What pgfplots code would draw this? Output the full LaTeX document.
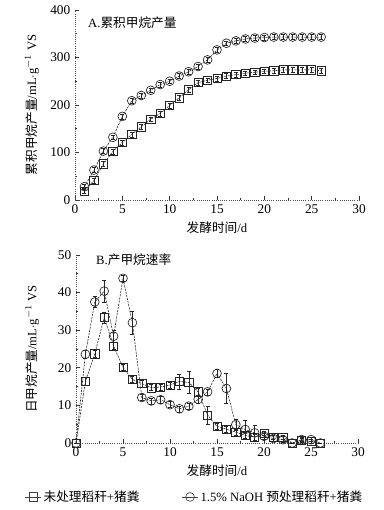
\documentclass[border=0pt]{standalone}
\usepackage{fontspec}
\setmainfont{Liberation Serif}
\newfontfamily\cjk{Noto Sans CJK SC}
\usepackage{pgfplots}
\usepackage{pgfplotstable}
\pgfplotsset{compat=1.18}

\pgfplotstableread{
x y e
1 19 5
2 41 5
3 76 5
4 102 5
5 121 5
6 138 5
7 154 5
8 170 5
9 182 5
10 199 5
11 215 5
12 232 6
13 247 5
14 252 5
15 256 5
16 261 5
17 264 5
18 267 5
19 269 5
20 271 5
21 272 5
22 274 5
23 274 5
24 274 5
25 274 5
26 272 5
}\cumA

\pgfplotstableread{
x y e
1 28 5
2 63 5
3 103 5
4 132 5
5 176 5
6 209 5
7 220 5
8 231 5
9 243 5
10 250 5
11 261 5
12 270 5
13 281 5
14 295 5
15 316 5
16 330 5
17 335 5
18 339 5
19 341 5
20 342 5
21 343 5
22 343 5
23 343 5
24 343 5
25 343 5
26 343 5
}\cumB

\pgfplotstableread{
x y e
0 0 0
1 16.4 1
2 23.7 1
3 33.4 1.5
4 25.8 1
5 20.1 0.8
6 16.9 0.8
7 15.8 1
8 14.7 0.8
9 14.9 0.8
10 15.4 0.8
11 16.4 2
12 16.1 3
13 13.6 1
14 7.4 2.5
15 4.4 0.8
16 3.7 0.8
17 2.9 0.8
18 2.0 0.8
19 1.6 0.8
20 2.5 0.5
21 1.6 0.5
22 1.6 0.5
23 0 0
24 0.7 0.5
25 0.4 0.5
26 0 0
}\rateA

\pgfplotstableread{
x y e
0 0 0
1 23.6 1
2 37.5 1.5
3 40.4 3
4 28.4 1.5
5 43.8 0.8
6 32.0 3
7 12.1 0.8
8 11.2 0.8
9 11.5 0.8
10 10.2 0.8
11 9.1 0.8
12 9.8 0.8
13 11.6 1
14 13.6 0.8
15 18.5 1
16 14.5 4
17 4.9 1.5
18 3.6 2.5
19 2.7 2
20 1.8 0.8
21 1.2 0.8
22 0.9 0.8
23 0 0
24 0.9 0.5
25 0.9 0.5
26 0 0
}\rateB

\pgfplotsset{
  myaxis/.style={
    scale only axis,
    axis x line*=bottom,
    axis y line*=left,
    axis line style={-, densely dotted, line width=0.6pt, black!70},
    tick style={black!80, line width=0.5pt},
    major tick length=3pt,
    minor tick length=1.8pt,
    tick align=inside,
    xmin=0, xmax=30,
    xtick={0,5,...,30},
    minor x tick num=1,
    minor y tick num=1,
    tick label style={font=\fontsize{10}{12}\selectfont},
    label style={font=\fontsize{9.5}{11}\selectfont},
    /pgf/number format/assume math mode=true,
    xlabel={{\cjk 发酵时间}/d},
    xlabel style={at={(axis description cs:0.5,-0.145)}, anchor=center},
    clip=false,
    legend image code/.code={
      \draw[mark repeat=2, mark phase=2, ##1, solid, line width=0.5pt, black!75]
        plot coordinates {(0cm,0cm) (0.2cm,0cm) (0.4cm,0cm)};
    },
  },
  serA/.style={black!85, line width=0.45pt, dash pattern=on 1.6pt off 0.8pt,
    mark=square, mark size=3.1pt, mark options={solid, line width=0.5pt},
    error bars/.cd, y dir=both, y explicit, error mark options={rotate=90, mark size=1.5pt, line width=0.4pt}, error bar style={solid, line width=0.4pt}},
  serB/.style={black!85, line width=0.45pt, dash pattern=on 1.6pt off 0.8pt,
    mark=o, mark size=3.3pt, mark options={solid, line width=0.5pt},
    error bars/.cd, y dir=both, y explicit, error mark options={rotate=90, mark size=1.5pt, line width=0.4pt}, error bar style={solid, line width=0.4pt}},
}

\begin{document}
\begin{tikzpicture}
\useasboundingbox (0,0) rectangle (287.25pt,382.5pt);

\begin{axis}[myaxis,
  at={(56.25pt,232.5pt)}, anchor=south west,
  width=213pt, height=142.5pt,
  ymin=0, ymax=400, ytick={0,100,...,400},
]
\addplot[serA] table[x=x, y=y, y error=e] {\cumA};
\addplot[serB] table[x=x, y=y, y error=e] {\cumB};
\node[anchor=west, font=\fontsize{9.5}{11}\selectfont] at (rel axis cs:0.03,0.935) {A.{\cjk 累积甲烷产量}};
\node[rotate=90, anchor=center, font=\fontsize{9.5}{11}\selectfont] at (rel axis cs:-0.152,0.5) {{\cjk 累积甲烷产量}/mL$\cdot$g$^{-1}$ VS};
\end{axis}

\begin{axis}[myaxis,
  at={(57pt,50.25pt)}, anchor=south west,
  width=211.5pt, height=141pt,
  ymin=0, ymax=50, ytick={0,10,...,50},
  legend style={at={(0.422,-0.287)}, anchor=center, draw=none, fill=none,
    font=\fontsize{9.5}{11}\selectfont, legend columns=2,
    /tikz/every even column/.append style={column sep=30pt}},
  legend cell align=left,
]
\addplot[serA] table[x=x, y=y, y error=e] {\rateA};
\addlegendentry{{\cjk 未处理稻秆}+{\cjk 猪粪}}
\addplot[serB] table[x=x, y=y, y error=e] {\rateB};
\addlegendentry{1.5\% NaOH {\cjk 预处理稻秆}+{\cjk 猪粪}}
\node[anchor=west, font=\fontsize{9.5}{11}\selectfont] at (rel axis cs:0.055,0.975) {B.{\cjk 产甲烷速率}};
\node[rotate=90, anchor=center, font=\fontsize{9.5}{11}\selectfont] at (rel axis cs:-0.155,0.5) {{\cjk 日甲烷产量}/mL$\cdot$g$^{-1}$ VS};
\end{axis}
\end{tikzpicture}
\end{document}
